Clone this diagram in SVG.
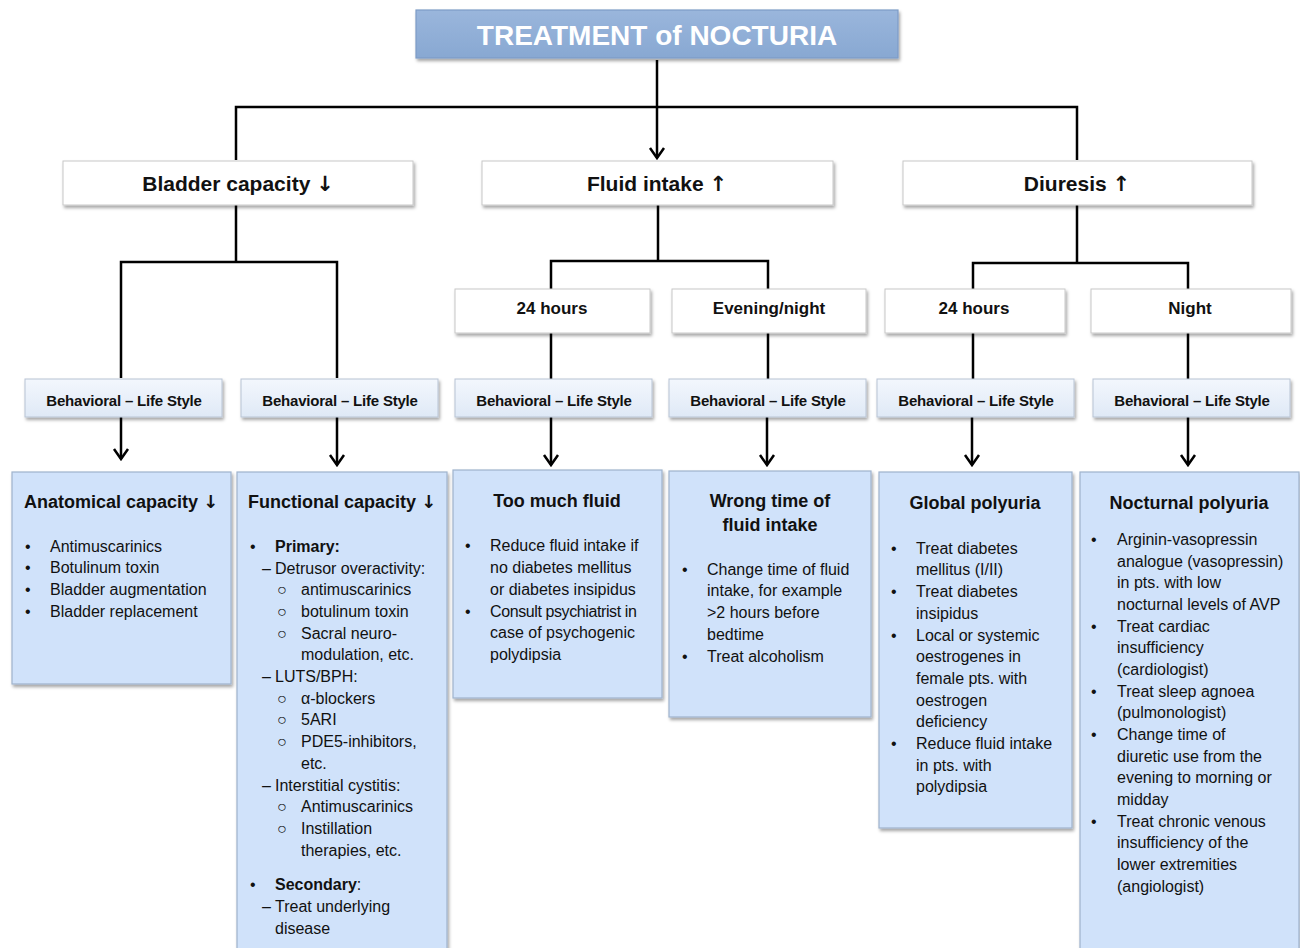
<svg xmlns="http://www.w3.org/2000/svg" width="1300" height="948" viewBox="0 0 1300 948">
<style>
text{font-family:"Liberation Sans",Arial,sans-serif;fill:#111}
.t{font-size:28px;font-weight:bold;fill:#fff;text-anchor:middle}
.h1{font-size:21px;font-weight:bold;text-anchor:middle}
.h2{font-size:17px;font-weight:bold;text-anchor:middle}
.bh{font-size:15px;font-weight:bold;text-anchor:middle;letter-spacing:-0.2px}
.hd{font-size:18px;font-weight:bold;text-anchor:middle}
.b{font-size:16px}
.arr{font-family:"DejaVu Sans",sans-serif;font-weight:bold}
.wbox{fill:#fff;stroke:#c8c8c8;stroke-width:1;filter:url(#sh)}
.lbox{fill:url(#lg);stroke:#b8c4d4;stroke-width:1;filter:url(#sh)}
.cbox{fill:#d0e2fa;stroke:#9fb3cc;stroke-width:1.2;filter:url(#sh)}
.ln{fill:none;stroke:#000;stroke-width:2.5}
</style>
<defs>
<filter id="sh" x="-10%" y="-10%" width="125%" height="130%">
<feDropShadow dx="1.5" dy="2.5" stdDeviation="1.5" flood-color="#000" flood-opacity="0.35"/>
</filter>
<linearGradient id="lg" x1="0" y1="0" x2="0" y2="1">
<stop offset="0" stop-color="#f3f7fd"/>
<stop offset="1" stop-color="#dfe9f6"/>
</linearGradient>
<linearGradient id="tg" x1="0" y1="0" x2="0" y2="1">
<stop offset="0" stop-color="#9ab6dc"/>
<stop offset="1" stop-color="#88a8d2"/>
</linearGradient>
</defs>

<g id="connectors">
<path class="ln" d="M657,60 V158"/>
<path class="ln" d="M236,160 V107 H1077 V160"/>
<path class="ln" d="M236,205 V262 M121,378 V262 H337 V378"/>
<path class="ln" d="M658,205 V261 M551,289 V261 H768 V289"/>
<path class="ln" d="M1077,205 V263 M973,289 V263 H1188 V289"/>
<path class="ln" d="M551,333 V379 M768,333 V379 M973,333 V379 M1188,333 V379"/>
<path class="ln" d="M121,417 V459 M337,417 V465 M551,417 V465 M767,417 V465 M972,417 V465 M1188,417 V465"/>
<path class="ln" d="M114,449 L121,459 L128,449 M330,455 L337,465 L344,455 M544,455 L551,465 L558,455 M760,455 L767,465 L774,455 M965,455 L972,465 L979,455 M1181,455 L1188,465 L1195,455 M650,148 L657,158 L664,148"/>
</g>

<g id="title">
<rect x="416" y="10" width="482" height="48" fill="url(#tg)" stroke="#7d9cc6" stroke-width="1.2" filter="url(#sh)"/>
<text class="t" x="657" y="45">TREATMENT of NOCTURIA</text>
</g>

<g id="bladder">
<rect class="wbox" x="63" y="161" width="350" height="44"/>
<text class="h1" x="238" y="191">Bladder capacity <tspan class="arr">↓</tspan></text>
</g>
<g id="fluid">
<rect class="wbox" x="482" y="161" width="351" height="44"/>
<text class="h1" x="657" y="191">Fluid intake <tspan class="arr">↑</tspan></text>
</g>
<g id="diuresis">
<rect class="wbox" x="903" y="161" width="349" height="44"/>
<text class="h1" x="1077" y="191">Diuresis <tspan class="arr">↑</tspan></text>
</g>

<g id="f24">
<rect class="wbox" x="455" y="289" width="195" height="44"/>
<text class="h2" x="552" y="314">24 hours</text>
</g>
<g id="fevening">
<rect class="wbox" x="672" y="289" width="194" height="44"/>
<text class="h2" x="769" y="314">Evening/night</text>
</g>
<g id="d24">
<rect class="wbox" x="885" y="289" width="180" height="44"/>
<text class="h2" x="974" y="314">24 hours</text>
</g>
<g id="dnight">
<rect class="wbox" x="1091" y="289" width="200" height="44"/>
<text class="h2" x="1190" y="314">Night</text>
</g>

<g id="beh1"><rect class="lbox" x="25" y="379" width="197" height="38"/><text class="bh" x="124" y="406">Behavioral – Life Style</text></g>
<g id="beh2"><rect class="lbox" x="241" y="379" width="197" height="38"/><text class="bh" x="340" y="406">Behavioral – Life Style</text></g>
<g id="beh3"><rect class="lbox" x="455" y="379" width="197" height="38"/><text class="bh" x="554" y="406">Behavioral – Life Style</text></g>
<g id="beh4"><rect class="lbox" x="669" y="379" width="197" height="38"/><text class="bh" x="768" y="406">Behavioral – Life Style</text></g>
<g id="beh5"><rect class="lbox" x="877" y="379" width="197" height="38"/><text class="bh" x="976" y="406">Behavioral – Life Style</text></g>
<g id="beh6"><rect class="lbox" x="1093" y="379" width="197" height="38"/><text class="bh" x="1192" y="406">Behavioral – Life Style</text></g>

<g id="anatomical">
<rect class="cbox" x="12" y="472" width="219" height="212"/>
<text class="hd" x="121" y="508">Anatomical capacity <tspan class="arr">↓</tspan></text>
<text class="b"><tspan x="25" y="552">•</tspan><tspan x="50" y="552">Antimuscarinics</tspan><tspan x="25" y="573">•</tspan><tspan x="50" y="573">Botulinum toxin</tspan><tspan x="25" y="595">•</tspan><tspan x="50" y="595">Bladder augmentation</tspan><tspan x="25" y="617">•</tspan><tspan x="50" y="617">Bladder replacement</tspan></text>
</g>

<g id="functional">
<rect class="cbox" x="237" y="472" width="210" height="480"/>
<text class="hd" x="342" y="508">Functional capacity <tspan class="arr">↓</tspan></text>
<text class="b">
<tspan x="250" y="552">•</tspan><tspan x="275" y="552" font-weight="bold">Primary:</tspan>
<tspan x="262" y="574">–</tspan><tspan x="275" y="574">Detrusor overactivity:</tspan>
<tspan x="277" y="595">○</tspan><tspan x="301" y="595">antimuscarinics</tspan>
<tspan x="277" y="617">○</tspan><tspan x="301" y="617">botulinum toxin</tspan>
<tspan x="277" y="639">○</tspan><tspan x="301" y="639">Sacral neuro-</tspan>
<tspan x="301" y="660">modulation, etc.</tspan>
<tspan x="262" y="682">–</tspan><tspan x="275" y="682">LUTS/BPH:</tspan>
<tspan x="277" y="704">○</tspan><tspan x="301" y="704">α-blockers</tspan>
<tspan x="277" y="725">○</tspan><tspan x="301" y="725">5ARI</tspan>
<tspan x="277" y="747">○</tspan><tspan x="301" y="747">PDE5-inhibitors,</tspan>
<tspan x="301" y="769">etc.</tspan>
<tspan x="262" y="791">–</tspan><tspan x="275" y="791">Interstitial cystitis:</tspan>
<tspan x="277" y="812">○</tspan><tspan x="301" y="812">Antimuscarinics</tspan>
<tspan x="277" y="834">○</tspan><tspan x="301" y="834">Instillation</tspan>
<tspan x="301" y="856">therapies, etc.</tspan>
<tspan x="250" y="890">•</tspan><tspan x="275" y="890" font-weight="bold">Secondary</tspan><tspan>:</tspan>
<tspan x="262" y="912">–</tspan><tspan x="275" y="912">Treat underlying</tspan>
<tspan x="275" y="934">disease</tspan>
</text>
</g>

<g id="toomuch">
<rect class="cbox" x="453" y="470" width="209" height="228"/>
<text class="hd" x="557" y="507">Too much fluid</text>
<text class="b">
<tspan x="465" y="551">•</tspan><tspan x="490" y="551">Reduce fluid intake if</tspan>
<tspan x="490" y="573">no diabetes mellitus</tspan>
<tspan x="490" y="595">or diabetes insipidus</tspan>
<tspan x="465" y="617">•</tspan><tspan x="490" y="617" letter-spacing="-0.4">Consult psychiatrist in</tspan>
<tspan x="490" y="638">case of psychogenic</tspan>
<tspan x="490" y="660">polydipsia</tspan>
</text>
</g>

<g id="wrongtime">
<rect class="cbox" x="669" y="471" width="202" height="246"/>
<text class="hd" x="770" y="507">Wrong time of</text>
<text class="hd" x="770" y="531">fluid intake</text>
<text class="b">
<tspan x="682" y="575">•</tspan><tspan x="707" y="575">Change time of fluid</tspan>
<tspan x="707" y="596">intake, for example</tspan>
<tspan x="707" y="618">&gt;2 hours before</tspan>
<tspan x="707" y="640">bedtime</tspan>
<tspan x="682" y="662">•</tspan><tspan x="707" y="662">Treat alcoholism</tspan>
</text>
</g>

<g id="global">
<rect class="cbox" x="879" y="472" width="193" height="356"/>
<text class="hd" x="975" y="509">Global polyuria</text>
<text class="b">
<tspan x="891" y="554">•</tspan><tspan x="916" y="554">Treat diabetes</tspan>
<tspan x="916" y="575">mellitus (I/II)</tspan>
<tspan x="891" y="597">•</tspan><tspan x="916" y="597">Treat diabetes</tspan>
<tspan x="916" y="619">insipidus</tspan>
<tspan x="891" y="641">•</tspan><tspan x="916" y="641">Local or systemic</tspan>
<tspan x="916" y="662">oestrogenes in</tspan>
<tspan x="916" y="684">female pts. with</tspan>
<tspan x="916" y="706">oestrogen</tspan>
<tspan x="916" y="727">deficiency</tspan>
<tspan x="891" y="749">•</tspan><tspan x="916" y="749">Reduce fluid intake</tspan>
<tspan x="916" y="771">in pts. with</tspan>
<tspan x="916" y="792">polydipsia</tspan>
</text>
</g>

<g id="nocturnal">
<rect class="cbox" x="1080" y="472" width="219" height="480"/>
<text class="hd" x="1189" y="509">Nocturnal polyuria</text>
<text class="b">
<tspan x="1091" y="545">•</tspan><tspan x="1117" y="545">Arginin-vasopressin</tspan>
<tspan x="1117" y="567">analogue (vasopressin)</tspan>
<tspan x="1117" y="588">in pts. with low</tspan>
<tspan x="1117" y="610">nocturnal levels of AVP</tspan>
<tspan x="1091" y="632">•</tspan><tspan x="1117" y="632">Treat cardiac</tspan>
<tspan x="1117" y="653">insufficiency</tspan>
<tspan x="1117" y="675">(cardiologist)</tspan>
<tspan x="1091" y="697">•</tspan><tspan x="1117" y="697">Treat sleep agnoea</tspan>
<tspan x="1117" y="718">(pulmonologist)</tspan>
<tspan x="1091" y="740">•</tspan><tspan x="1117" y="740">Change time of</tspan>
<tspan x="1117" y="762">diuretic use from the</tspan>
<tspan x="1117" y="783">evening to morning or</tspan>
<tspan x="1117" y="805">midday</tspan>
<tspan x="1091" y="827">•</tspan><tspan x="1117" y="827">Treat chronic venous</tspan>
<tspan x="1117" y="848">insufficiency of the</tspan>
<tspan x="1117" y="870">lower extremities</tspan>
<tspan x="1117" y="892">(angiologist)</tspan>
</text>
</g>
</svg>
